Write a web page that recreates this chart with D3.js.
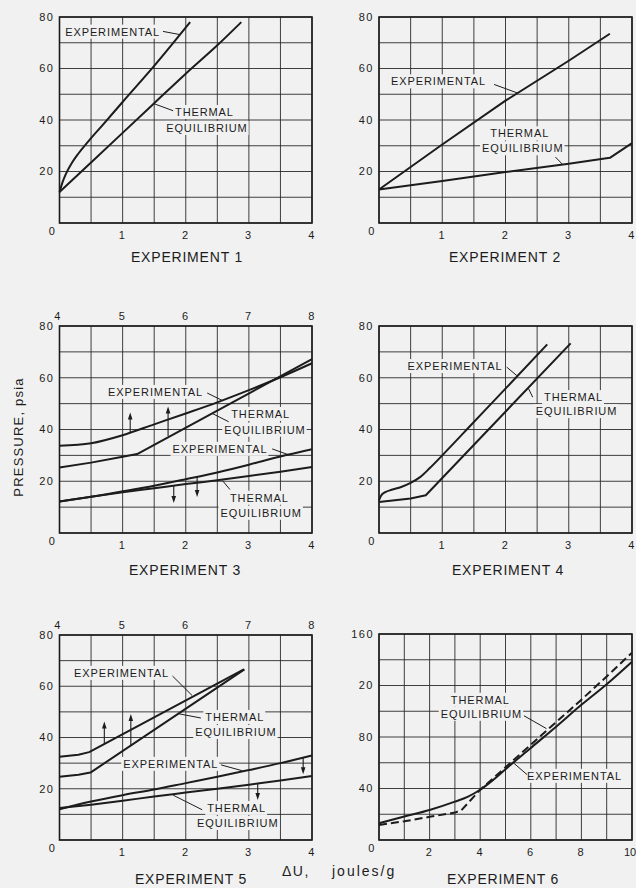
<!DOCTYPE html>
<html><head><meta charset="utf-8">
<script src="https://cdn.jsdelivr.net/npm/d3@7"></script>
<style>
html,body{margin:0;padding:0;background:#f1f1f1;}
svg{display:block;}
text{font-family:"Liberation Sans",Arial,sans-serif;fill:#1c1c1c;}
</style></head><body>
<svg id="chart" width="636" height="888"></svg>
<script>
// ---------- DATA ----------
const exp1Experimental = [[0,12],[0.05,16],[0.1,19],[0.2,23.5],[0.3,27],[0.45,31.5],[0.7,38.5],[1,47],[1.5,61],[2.07,78]];
const exp1Thermal      = [[0,12],[0.5,23.5],[1,35],[1.5,46.5],[2,58],[2.5,69],[2.88,78]];

const exp2Experimental = [[0,13],[1,30.5],[2,47.5],[3,63],[3.65,73.5]];
const exp2Thermal      = [[0,13],[1,16.3],[2,19.8],[3,23],[3.65,25.3],[4,31]];

const exp3ExperimentalUpper = [[0,33.7],[0.5,34.7],[1,37.8],[1.5,42],[2,46.2],[2.5,50.5],[3,55.2],[3.5,60.2],[4,65.6]];
const exp3ThermalUpper      = [[0,25.3],[0.5,27.2],[1,29.5],[1.23,30.5],[4,67.2]];
const exp3ExperimentalLower = [[0,12.2],[0.5,14],[1,16.1],[1.5,18.3],[2,20.8],[2.5,23.4],[3,26.4],[3.5,29.6],[4,32.4]];
const exp3ThermalLower      = [[0,12.2],[0.5,14],[1,15.7],[1.5,17.3],[2,18.9],[2.5,20.4],[3,22],[3.5,23.7],[4,25.5]];
const exp3Arrows = [[1.12,38.8,46.6],[1.72,37.5,48.9],[1.81,18.2,11.6],[2.18,21.6,13.9]];

const exp4Experimental = [[0,12.6],[0.03,14.3],[0.1,15.8],[0.2,16.7],[0.35,17.8],[0.5,19.4],[0.65,21.6],[0.8,25],[1,30],[1.5,42.9],[2,55.8],[2.66,72.9]];
const exp4Thermal      = [[0,12],[0.5,13.3],[0.74,14.6],[3.03,73.3]];

const exp5ExperimentalUpper = [[0,32.5],[0.3,33.3],[0.47,34.3],[2.92,66.6]];
const exp5ThermalUpper      = [[0,24.7],[0.3,25.5],[0.49,26.3],[2.93,66.6]];
const exp5ExperimentalLower = [[0,12],[0.5,15],[1,17.5],[1.5,19.7],[2,22.2],[2.5,24.7],[3,27.3],[3.5,30],[4,33]];
const exp5ThermalLower      = [[0,12.5],[0.5,13.8],[1,15.3],[1.5,17],[2,18.5],[2.5,20],[3,21.6],[3.5,23.2],[4,25]];
const exp5Arrows = [[0.71,37.6,46.2],[1.13,37,49.2],[3.14,22,15.6],[3.86,32.1,25.7]];

const exp6Experimental = [[0,13],[1,18.2],[2,23.3],[3,29.8],[3.5,33.5],[4,39],[4.5,46.5],[5,55],[6,71.5],[7,88],[8,105],[9,121],[10,138.5]];
const exp6Thermal      = [[0,11.7],[1,14.5],[2,18],[3,21.3],[3.25,23],[4,39],[5,56.5],[6,74],[7,91.5],[8,109],[9,127],[10,145.5]];

const xTicks4 = [1,2,3,4];
const xTicks10 = [2,4,6,8,10];
const topTicks = [4,5,6,7,8];
const yTicks80 = [20,40,60,80];
const yTicks160 = [40,80,120,160];
const yTickLabels160 = ["40","80","20","160"];

// ---------- LAYOUT ----------
const panels = [
  {box:[59.5,17,312,223], xd:[0,4], yd:[0,80], xg:0.5, yg:10, xt:xTicks4, yt:yTicks80, title:"EXPERIMENT 1", tx:187, ty:257,
   series:[{d:exp1Experimental,c:"s"},{d:exp1Thermal,c:"s"}],
   labels:[["EXPERIMENTAL",0.09,74.3],["THERMAL",1.83,43.1],["EQUILIBRIUM",1.69,36.9]],
   leaders:[[1.64,74.4,1.9,73.2],[1.5,46.3,1.8,43.6]], arrows:[]},
  {box:[379,17,632,223], xd:[0,4], yd:[0,80], xg:0.5, yg:10, xt:xTicks4, yt:yTicks80, title:"EXPERIMENT 2", tx:505, ty:257,
   series:[{d:exp2Experimental,c:"l"},{d:exp2Thermal,c:"l"}],
   labels:[["EXPERIMENTAL",0.19,55],["THERMAL",1.76,34.8],["EQUILIBRIUM",1.63,29]],
   leaders:[[1.82,53.8,2.2,50.4],[2.79,25.6,2.9,22.8]], arrows:[]},
  {box:[59.5,326,312,533], xd:[0,4], yd:[0,80], xg:0.5, yg:10, xt:xTicks4, yt:yTicks80, top:true, title:"EXPERIMENT 3", tx:185, ty:570,
   series:[{d:exp3ExperimentalUpper,c:"s"},{d:exp3ThermalUpper,c:"l"},{d:exp3ExperimentalLower,c:"s"},{d:exp3ThermalLower,c:"s"}],
   labels:[["EXPERIMENTAL",0.77,54.5],["THERMAL",2.72,46],["EQUILIBRIUM",2.61,39.9],["EXPERIMENTAL",1.79,32.5],["THERMAL",2.7,13.6],["EQUILIBRIUM",2.55,7.8]],
   leaders:[[2.34,54.1,2.58,51.2],[2.42,46.2,2.68,43],[3.37,32.5,3.62,30.3],[2.58,20.3,2.7,16.8]], arrows:exp3Arrows},
  {box:[379,326,632,533], xd:[0,4], yd:[0,80], xg:0.5, yg:10, xt:xTicks4, yt:yTicks80, title:"EXPERIMENT 4", tx:508, ty:570,
   series:[{d:exp4Experimental,c:"s"},{d:exp4Thermal,c:"l"}],
   labels:[["EXPERIMENTAL",0.45,64.5],["THERMAL",2.61,52.5],["EQUILIBRIUM",2.48,47.1]],
   leaders:[[2.02,64.1,2.18,60.8],[2.36,56,2.43,52.5]], arrows:[]},
  {box:[59.5,635,312,840], xd:[0,4], yd:[0,80], xg:0.5, yg:10, xt:xTicks4, yt:yTicks80, top:true, title:"EXPERIMENT 5", tx:191, ty:879,
   series:[{d:exp5ExperimentalUpper,c:"l"},{d:exp5ThermalUpper,c:"l"},{d:exp5ExperimentalLower,c:"s"},{d:exp5ThermalLower,c:"s"}],
   labels:[["EXPERIMENTAL",0.23,65.2],["THERMAL",2.31,48],["EQUILIBRIUM",2.15,42.1],["EXPERIMENTAL",1.01,29.7],["THERMAL",2.34,12.5],["EQUILIBRIUM",2.18,6.6]],
   leaders:[[1.79,64,2.1,56.4],[1.88,49.3,2.24,47.6],[2.56,29.3,2.9,27],[1.8,17.5,2.26,11.8]], arrows:exp5Arrows},
  {box:[379,634,632,840], xd:[0,10], yd:[0,160], xg:1, yg:20, xt:xTicks10, yt:yTicks160, ytl:yTickLabels160, title:"EXPERIMENT 6", tx:503, ty:879,
   series:[{d:exp6Experimental,c:"s"},{d:exp6Thermal,c:"l",dash:true}],
   labels:[["THERMAL",2.84,108.9],["EQUILIBRIUM",2.44,98],["EXPERIMENTAL",5.85,49.8]],
   leaders:[[5.73,96.5,6.62,86.5],[5.28,60.5,5.85,50.8]], arrows:[]}
];

const svg = d3.select("#chart");
const INK = "#1c1c1c";
const BG = "#f1f1f1";

panels.forEach(p => {
  const [L,T,R,B] = p.box;
  const x = d3.scaleLinear().domain(p.xd).range([L,R]);
  const y = d3.scaleLinear().domain(p.yd).range([B,T]);
  const g = svg.append("g");

  // grid
  const gx = d3.range(p.xd[0], p.xd[1] + 1e-9, p.xg);
  const gy = d3.range(p.yd[0], p.yd[1] + 1e-9, p.yg);
  const grid = g.append("g").attr("stroke", "#2a2a2a").attr("stroke-width", 0.9);
  grid.selectAll(".vx").data(gx).join("line")
    .attr("x1", d => x(d)).attr("x2", d => x(d)).attr("y1", T).attr("y2", B);
  grid.selectAll(".hy").data(gy).join("line")
    .attr("y1", d => y(d)).attr("y2", d => y(d)).attr("x1", L).attr("x2", R);
  g.append("rect").attr("x", L).attr("y", T).attr("width", R-L).attr("height", B-T)
    .attr("fill", "none").attr("stroke", INK).attr("stroke-width", 1.6);

  // axis tick labels
  const tl = g.append("g").attr("font-size", 11).attr("letter-spacing", "1.5px");
  tl.selectAll(".yl").data(p.yt).join("text")
    .attr("x", L - 5).attr("y", d => y(d)).attr("dy", "0.35em").attr("text-anchor", "end")
    .text((d,i) => p.ytl ? p.ytl[i] : d);
  tl.append("text").attr("x", L - 7).attr("y", B + 8).attr("dy", "0.35em").attr("text-anchor", "middle").text("0");
  tl.selectAll(".xl").data(p.xt).join("text")
    .attr("x", d => x(d) - (d >= 10 ? 2 : 0)).attr("y", B + 12.5).attr("dy", "0.35em")
    .attr("text-anchor", "middle").attr("letter-spacing", d => d >= 10 ? "0px" : null).text(d => d);
  if (p.top) {
    const xt = d3.scaleLinear().domain([4,8]).range([L,R]);
    tl.selectAll(".tl").data(topTicks).join("text")
      .attr("x", d => xt(d) - (d === 4 ? 1.5 : 0)).attr("y", T - 10).attr("dy", "0.35em").attr("text-anchor", "middle").text(d => d);
  }

  // label backgrounds + labels
  const bgL = g.append("g");
  const curves = g.append("g");
  const txt = g.append("g").attr("font-size", 11).attr("letter-spacing", "0.9px");
  txt.selectAll("text").data(p.labels).join("text")
    .attr("x", d => x(d[1])).attr("y", d => y(d[2])).attr("dy", "0.36em").text(d => d[0]);
  txt.selectAll("text").each(function(){
    const bb = this.getBBox();
    bgL.append("rect").attr("x", bb.x - 2).attr("y", bb.y - 1).attr("width", bb.width + 3).attr("height", bb.height + 2).attr("fill", BG);
  });

  // series
  p.series.forEach(s => {
    const line = d3.line().x(d => x(d[0])).y(d => y(d[1]))
      .curve(s.c === "s" ? d3.curveMonotoneX : d3.curveLinear);
    curves.append("path").attr("d", line(s.d)).attr("fill", "none").attr("stroke", INK)
      .attr("stroke-width", 2).attr("stroke-linejoin", "round")
      .attr("stroke-dasharray", s.dash ? "8,4" : null);
  });

  // leaders
  curves.selectAll(".ld").data(p.leaders).join("line")
    .attr("x1", d => x(d[0])).attr("y1", d => y(d[1])).attr("x2", d => x(d[2])).attr("y2", d => y(d[3]))
    .attr("stroke", INK).attr("stroke-width", 1);

  // arrows
  p.arrows.forEach(a => {
    const ax = x(a[0]), y0 = y(a[1]), y1 = y(a[2]);
    const dir = y1 < y0 ? 1 : -1;
    curves.append("line").attr("x1", ax).attr("x2", ax).attr("y1", y0).attr("y2", y1 + dir*3)
      .attr("stroke", INK).attr("stroke-width", 1.1);
    curves.append("path")
      .attr("d", `M${ax},${y1} L${ax-2.3},${y1+dir*7} L${ax+2.3},${y1+dir*7} Z`)
      .attr("fill", INK);
  });

  // title
  g.append("text").attr("x", p.tx).attr("y", p.ty).attr("dy", "0.36em").attr("text-anchor", "middle")
    .attr("font-size", 14).attr("letter-spacing", "0.8px").text(p.title);
});

// shared axis labels
svg.append("text").attr("transform", "translate(18,437) rotate(-90)").attr("text-anchor", "middle")
  .attr("dy", "0.36em").attr("font-size", 13).attr("letter-spacing", "1.2px").text("PRESSURE, psia");
svg.append("text").attr("x", 282).attr("y", 871).attr("dy", "0.36em").attr("font-size", 14)
  .attr("letter-spacing", "1.5px").text("ΔU,");
svg.append("text").attr("x", 332).attr("y", 871).attr("dy", "0.36em").attr("font-size", 14)
  .attr("letter-spacing", "2px").text("joules/g");
</script>
</body></html>
